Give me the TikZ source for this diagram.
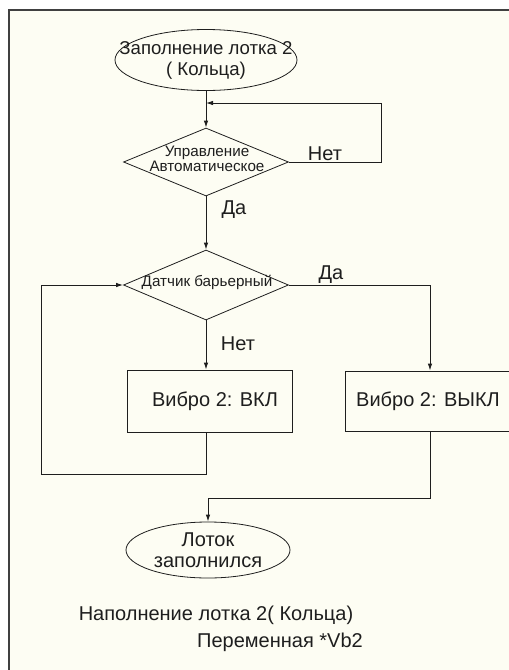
\documentclass[tikz,border=0pt]{standalone}
\usepackage{fontspec}
\setmainfont{Liberation Sans}
\usetikzlibrary{shapes.geometric,arrows.meta}

\definecolor{paper}{RGB}{253,253,243}
\definecolor{ink}{RGB}{30,30,30}

\tikzset{
	line/.style={draw=ink, line width=0.9pt},
	arr/.style={line, -{Latex[length=7pt,width=4.5pt]}},
	terminal/.style={ellipse, draw=ink, line width=0.8pt, inner sep=0pt, minimum width=182pt, minimum height=61pt},
	decision/.style={diamond, draw=ink, line width=0.8pt, inner sep=0pt, minimum width=165pt, minimum height=68pt},
	process/.style={rectangle, draw=ink, line width=0.9pt, minimum width=165pt, minimum height=62pt, text=ink, font=\fontsize{20}{22}\selectfont},
	big/.style={text=ink, inner sep=0pt, align=center, font=\fontsize{20}{21}\selectfont},
	small/.style={text=ink, inner sep=0pt, align=center, font=\fontsize{15.2}{13.5}\selectfont},
}

\begin{document}
\begin{tikzpicture}[x=1pt,y=-1pt]
			\useasboundingbox (0,0) rectangle (509,670);
			\clip (0,0) rectangle (509,670);
			\fill[white] (0,0) rectangle (509,670);
			\fill[paper] (9,10) rectangle (509,670);
			\draw[draw=black!75, line width=1.5pt] (9,670) -- (9,10) -- (509,10);

			\node[terminal] (start) at (206,60) {};
			\node[text=ink, inner sep=0pt, align=center, font=\fontsize{18.6}{21}\selectfont] (starttext) at (start) {Заполнение лотка 2\\( Кольца)};
			\node[decision] (auto) at (206,162) {};
			\node[small] (autotext) at (207,159) {Управление\\Автоматическое};
			\node[decision, minimum height=70pt] (sensor) at (206,285) {};
			\node[small] (sensortext) at (207,282) {Датчик барьерный};
			\node[process] (vibon) at (210,401) {\hspace{10pt}Вибро 2: ВКЛ};
			\node[process, minimum width=170pt, minimum height=60pt] (viboff) at (430,401) {\hspace*{-4pt}Вибро 2: ВЫКЛ};
			\node[terminal, minimum width=164pt, minimum height=56pt] (done) at (208,550) {};
			\node[big] (donetext) at (done) {Лоток\\заполнился};

			\coordinate (join) at (206,103);
			\coordinate (nocorner) at (381,103);
			\coordinate (loopcorner) at (41,474);
			\coordinate (merge) at (208,498);

			\draw[arr] (start.south) -- (auto.north);
			\draw[arr] (auto.east) -| (nocorner) -- (join);
			\draw[arr] (auto.south) -- (sensor.north);
			\draw[arr] (sensor.south) -- (sensor.south |- vibon.north);
			\draw[arr] (sensor.east) -| (viboff.north);
			\draw[arr] (vibon.south -| sensor.south) |- (loopcorner) |- (sensor.west);
			\draw[arr] (viboff.south) |- (merge) -- (done.north);

			\node[big] (autono) at (325,154) {Нет};
			\node[big] (autoyes) at (234,210) {Да};
			\node[big] (sensoryes) at (331,275) {Да};
			\node[big] (sensorno) at (238,344) {Нет};

			\node[big] (caption) at (216,615) {Наполнение лотка 2( Кольца)};
			\node[big] (varname) at (280,642) {Переменная *Vb2};
		\end{tikzpicture}
\end{document}
